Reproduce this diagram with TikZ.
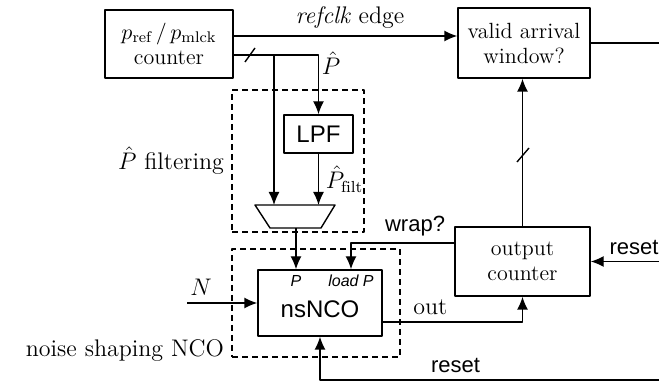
\documentclass[tikz,border=0pt]{standalone}
\usepackage{fontspec}
\newfontfamily\hv{Liberation Sans}
\usetikzlibrary{arrows.meta}

\begin{document}
\begin{tikzpicture}[x=0.5pt, y=-0.5pt, line join=round, line width=0.7pt,
  >={Latex[length=6.5pt,width=5.5pt]},
  blk/.style={draw, align=center, inner sep=0pt, font=\fontsize{11}{12.5}\selectfont},
  sfblk/.style={blk, font=\fontsize{12}{14}\selectfont\hv},
  grp/.style={draw, dash pattern=on 3pt off 2pt, inner sep=0pt},
  lbl/.style={font=\fontsize{12}{14}\selectfont},
  sflbl/.style={font=\fontsize{11}{13}\selectfont\hv},
  portlbl/.style={font=\fontsize{8}{9}\selectfont\hv\itshape, inner sep=0pt}]
  \clip (0,0) rectangle (659,383);
  \coordinate (rE) at (659,0);
  % blocks
  \node[blk, minimum width=64pt, minimum height=34pt] (cnt) at (169,44) {$p_{\mathrm{ref}}\,/\,p_{\mathrm{mlck}}$\\counter};
  \node[blk, minimum width=66pt, minimum height=35pt] (valid) at (524,43) {valid arrival\\window?};
  \node[grp, minimum width=66pt, minimum height=71pt] (filt) at (298,161) {};
  \node[sfblk, minimum width=34.5pt, minimum height=19pt] (lpf) at (318.5,134) {LPF};
  \node[grp, minimum width=84pt, minimum height=54pt] (nsg) at (316,303) {};
  \node[blk, minimum width=62pt, minimum height=33pt] (nco) at (320,303) {};
  \node[font=\fontsize{12}{14}\selectfont\hv] (ncotxt) at (320,309) {nsNCO};
  \node[portlbl] (pinP) at (296,281) {P};
  \node[portlbl] (pinL) at (351,281) {load P};
  \node[blk, minimum width=67.5pt, minimum height=34.5pt] (oc) at (522.5,261.5) {output\\counter};
  % mux
  \coordinate (muxL) at (274,205);
  \coordinate (muxR) at (318.5,205);
  \coordinate (muxO) at (296,228);
  \draw (255,205) -- (335,205) -- (321,228) -- (270,228) -- cycle;
  % connections
  \draw[->] ([yshift=4pt]cnt.east) -- ([yshift=4pt]cnt.east -| valid.west)
    node[lbl, pos=0.52, above] (refl) {\textit{refclk} edge};
  \coordinate (ph) at ([yshift=-5.5pt]cnt.east);
  \coordinate (br) at (274,55);
  \draw[->] (ph) -| (lpf.north);
  \draw[->] (br) -- (muxL);
  \draw (245,62) -- (255,48);
  \node[lbl] (phl) at (331,63) {$\hat P$};
  \draw[->] (lpf.south) -- (muxR) node[lbl, midway, right] (pfl) {$\hat P_{\mathrm{filt}}$};
  \draw[->] (muxO) -- (muxO |- nco.north);
  \draw[->] ([yshift=9.25pt]oc.west) -| (pinL |- nco.north)
    node[sflbl, pos=0.19, above] (wrapl) {wrap?};
  \draw[->] (oc.north) -- (oc.north |- valid.south);
  \draw (517,162) -- (529,148);
  \draw (valid.east) -- (valid.east -| rE);
  \draw[->] (oc.east -| rE) -- (oc.east);
  \node[sflbl] (rst1) at (634,248) {reset};
  \draw[->] ([yshift=-9.5pt]nco.east) -| (oc.south)
    node[lbl, pos=0.17, above] (outl) {out};
  \coordinate (rB) at (659,380);
  \draw[->] (rB) -| (nco.south) node[sflbl, pos=0.3, above] (rst2) {reset};
  \coordinate (nin) at (187,303);
  \draw[->] (nin) -- (nco.west) node[lbl, pos=0.2, above] (nl) {$N$};
  % group labels
  \node[lbl, left] (filtl) at (filt.west) {$\hat P$ filtering};
  \node[lbl, left] (nsgl) at ([yshift=3.5pt]nsg.south west) {noise shaping NCO};
\end{tikzpicture}
\end{document}
